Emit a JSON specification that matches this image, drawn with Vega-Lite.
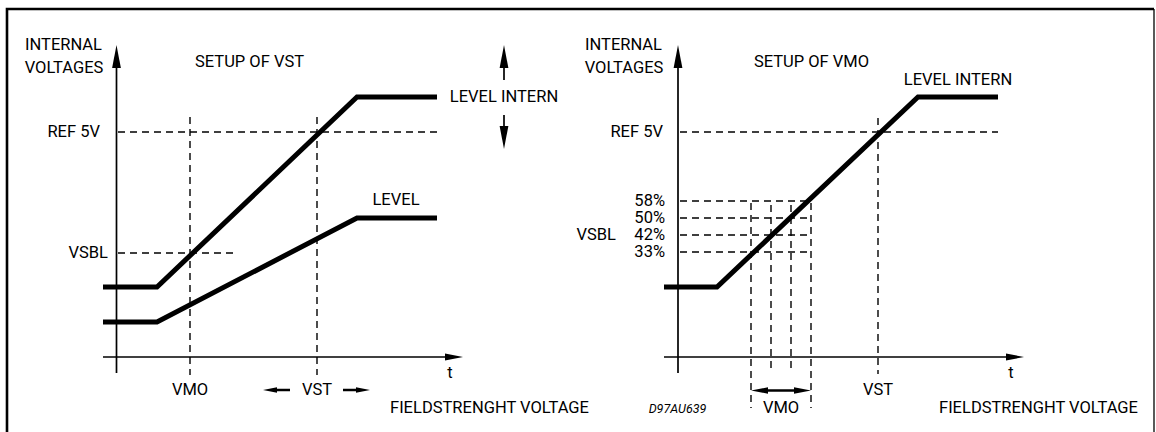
{
  "$schema": "https://vega.github.io/schema/vega-lite/v6.json",
  "width": 1156,
  "height": 432,
  "padding": 0,
  "autosize": {"type": "none"},
  "background": "white",
  "config": {"view": {"stroke": null}},
  "datasets": {
    "lines": [
      {"id": "frame", "kind": "frame", "o": 1, "x": 7, "y": 432},
      {"id": "frame", "kind": "frame", "o": 2, "x": 7, "y": 9},
      {"id": "frame", "kind": "frame", "o": 3, "x": 1154, "y": 9},
      {"id": "frameR", "kind": "framethin", "o": 1, "x": 1154, "y": 9},
      {"id": "frameR", "kind": "framethin", "o": 2, "x": 1154, "y": 432},

      {"id": "L_intern", "kind": "thick", "o": 1, "x": 103, "y": 287},
      {"id": "L_intern", "kind": "thick", "o": 2, "x": 157, "y": 287},
      {"id": "L_intern", "kind": "thick", "o": 3, "x": 357, "y": 97},
      {"id": "L_intern", "kind": "thick", "o": 4, "x": 437, "y": 97},
      {"id": "L_level", "kind": "thick", "o": 1, "x": 103, "y": 322},
      {"id": "L_level", "kind": "thick", "o": 2, "x": 157, "y": 322},
      {"id": "L_level", "kind": "thick", "o": 3, "x": 357, "y": 218},
      {"id": "L_level", "kind": "thick", "o": 4, "x": 437, "y": 218},
      {"id": "R_intern", "kind": "thick", "o": 1, "x": 664, "y": 287},
      {"id": "R_intern", "kind": "thick", "o": 2, "x": 717, "y": 287},
      {"id": "R_intern", "kind": "thick", "o": 3, "x": 918, "y": 97},
      {"id": "R_intern", "kind": "thick", "o": 4, "x": 998, "y": 97},

      {"id": "L_yaxis", "kind": "axis", "o": 1, "x": 116.5, "y": 60},
      {"id": "L_yaxis", "kind": "axis", "o": 2, "x": 116.5, "y": 373},
      {"id": "L_xaxis", "kind": "axis", "o": 1, "x": 103, "y": 357},
      {"id": "L_xaxis", "kind": "axis", "o": 2, "x": 450, "y": 357},
      {"id": "R_yaxis", "kind": "axis", "o": 1, "x": 678, "y": 60},
      {"id": "R_yaxis", "kind": "axis", "o": 2, "x": 678, "y": 373},
      {"id": "R_xaxis", "kind": "axis", "o": 1, "x": 664, "y": 357},
      {"id": "R_xaxis", "kind": "axis", "o": 2, "x": 1010, "y": 357},
      {"id": "up_shaft", "kind": "axis", "o": 1, "x": 504, "y": 66},
      {"id": "up_shaft", "kind": "axis", "o": 2, "x": 504, "y": 80},
      {"id": "down_shaft", "kind": "axis", "o": 1, "x": 504, "y": 115},
      {"id": "down_shaft", "kind": "axis", "o": 2, "x": 504, "y": 129},

      {"id": "vst_l", "kind": "shaft", "o": 1, "x": 275, "y": 390},
      {"id": "vst_l", "kind": "shaft", "o": 2, "x": 290, "y": 390},
      {"id": "vst_r", "kind": "shaft", "o": 1, "x": 343, "y": 390},
      {"id": "vst_r", "kind": "shaft", "o": 2, "x": 358, "y": 390},
      {"id": "vmo_s", "kind": "shaft", "o": 1, "x": 766, "y": 390.5},
      {"id": "vmo_s", "kind": "shaft", "o": 2, "x": 796, "y": 390.5},

      {"id": "L_ref", "kind": "dash", "o": 1, "x": 118, "y": 132},
      {"id": "L_ref", "kind": "dash", "o": 2, "x": 437, "y": 132},
      {"id": "L_vsbl", "kind": "dash", "o": 1, "x": 118, "y": 253},
      {"id": "L_vsbl", "kind": "dash", "o": 2, "x": 237, "y": 253},
      {"id": "L_vmo", "kind": "dash", "o": 1, "x": 190, "y": 117},
      {"id": "L_vmo", "kind": "dash", "o": 2, "x": 190, "y": 375},
      {"id": "L_vst", "kind": "dash", "o": 1, "x": 317, "y": 117},
      {"id": "L_vst", "kind": "dash", "o": 2, "x": 317, "y": 375},
      {"id": "R_ref", "kind": "dash", "o": 1, "x": 680, "y": 132},
      {"id": "R_ref", "kind": "dash", "o": 2, "x": 998, "y": 132},
      {"id": "R_58", "kind": "dash", "o": 1, "x": 680, "y": 201},
      {"id": "R_58", "kind": "dash", "o": 2, "x": 811, "y": 201},
      {"id": "R_50", "kind": "dash", "o": 1, "x": 680, "y": 218},
      {"id": "R_50", "kind": "dash", "o": 2, "x": 811, "y": 218},
      {"id": "R_42", "kind": "dash", "o": 1, "x": 680, "y": 235},
      {"id": "R_42", "kind": "dash", "o": 2, "x": 811, "y": 235},
      {"id": "R_33", "kind": "dash", "o": 1, "x": 680, "y": 252},
      {"id": "R_33", "kind": "dash", "o": 2, "x": 811, "y": 252},
      {"id": "R_v1", "kind": "dash", "o": 1, "x": 751, "y": 203},
      {"id": "R_v1", "kind": "dash", "o": 2, "x": 751, "y": 408},
      {"id": "R_v2", "kind": "dash", "o": 1, "x": 771, "y": 205},
      {"id": "R_v2", "kind": "dash", "o": 2, "x": 771, "y": 368},
      {"id": "R_v3", "kind": "dash", "o": 1, "x": 791, "y": 205},
      {"id": "R_v3", "kind": "dash", "o": 2, "x": 791, "y": 368},
      {"id": "R_v4", "kind": "dash", "o": 1, "x": 811, "y": 203},
      {"id": "R_v4", "kind": "dash", "o": 2, "x": 811, "y": 408},
      {"id": "R_vst", "kind": "dash", "o": 1, "x": 878, "y": 118},
      {"id": "R_vst", "kind": "dash", "o": 2, "x": 878, "y": 374}
    ],
    "heads": [
      {"head": "yaxis", "dir": "up", "x": 116.5, "y": 56.5},
      {"head": "yaxis", "dir": "up", "x": 678, "y": 56.5},
      {"head": "xaxis", "dir": "right", "x": 454, "y": 357},
      {"head": "xaxis", "dir": "right", "x": 1015, "y": 357},
      {"head": "updown", "dir": "up", "x": 504, "y": 56.5},
      {"head": "updown", "dir": "down", "x": 504, "y": 137.5},
      {"head": "vst", "dir": "left", "x": 270, "y": 390},
      {"head": "vst", "dir": "right", "x": 363, "y": 390},
      {"head": "vmo", "dir": "left", "x": 759.5, "y": 390.5},
      {"head": "vmo", "dir": "right", "x": 802.5, "y": 390.5}
    ],
    "labels": [
      {"text": "INTERNAL", "style": "center", "x": 63.5, "y": 45},
      {"text": "VOLTAGES", "style": "center", "x": 64, "y": 68},
      {"text": "SETUP OF VST", "style": "center", "x": 249.5, "y": 62},
      {"text": "LEVEL INTERN", "style": "center", "x": 504, "y": 97},
      {"text": "LEVEL", "style": "center", "x": 396, "y": 200},
      {"text": "VMO", "style": "center", "x": 190, "y": 390},
      {"text": "VST", "style": "center", "x": 317, "y": 390},
      {"text": "t", "style": "center", "x": 450, "y": 373},
      {"text": "FIELDSTRENGHT VOLTAGE", "style": "center", "x": 489.5, "y": 408},
      {"text": "INTERNAL", "style": "center", "x": 623.5, "y": 45},
      {"text": "VOLTAGES", "style": "center", "x": 624, "y": 68},
      {"text": "SETUP OF VMO", "style": "center", "x": 811.5, "y": 62},
      {"text": "LEVEL INTERN", "style": "center", "x": 958, "y": 80},
      {"text": "VMO", "style": "center", "x": 781, "y": 408},
      {"text": "VST", "style": "center", "x": 878, "y": 390},
      {"text": "t", "style": "center", "x": 1011, "y": 373},
      {"text": "FIELDSTRENGHT VOLTAGE", "style": "center", "x": 1038.5, "y": 408},
      {"text": "REF 5V", "style": "right", "x": 100, "y": 132},
      {"text": "VSBL", "style": "right", "x": 108, "y": 253},
      {"text": "REF 5V", "style": "right", "x": 663, "y": 132},
      {"text": "VSBL", "style": "right", "x": 616, "y": 235},
      {"text": "58%", "style": "right", "x": 665, "y": 201},
      {"text": "50%", "style": "right", "x": 665, "y": 218},
      {"text": "42%", "style": "right", "x": 665, "y": 235},
      {"text": "33%", "style": "right", "x": 665, "y": 252},
      {"text": "D97AU639", "style": "small", "x": 677.5, "y": 409}
    ]
  },
  "encoding": {
    "x": {"field": "x", "type": "quantitative", "axis": null, "scale": {"domain": [0, 1156], "nice": false, "zero": false}},
    "y": {"field": "y", "type": "quantitative", "axis": null, "scale": {"domain": [0, 432], "nice": false, "zero": false, "reverse": true}}
  },
  "layer": [
    {
      "data": {"name": "lines"},
      "transform": [{"filter": "datum.kind === 'frame'"}],
      "mark": {"type": "line", "color": "black", "strokeWidth": 2.6, "strokeJoin": "miter"},
      "encoding": {"detail": {"field": "id"}, "order": {"field": "o", "type": "quantitative"}}
    },
    {
      "data": {"name": "lines"},
      "transform": [{"filter": "datum.kind === 'framethin'"}],
      "mark": {"type": "line", "color": "black", "strokeWidth": 1.3},
      "encoding": {"detail": {"field": "id"}, "order": {"field": "o", "type": "quantitative"}}
    },
    {
      "data": {"name": "lines"},
      "transform": [{"filter": "datum.kind === 'dash'"}],
      "mark": {"type": "line", "color": "black", "strokeWidth": 1.4, "strokeDash": [7, 5]},
      "encoding": {"detail": {"field": "id"}, "order": {"field": "o", "type": "quantitative"}}
    },
    {
      "data": {"name": "lines"},
      "transform": [{"filter": "datum.kind === 'axis'"}],
      "mark": {"type": "line", "color": "black", "strokeWidth": 1.7},
      "encoding": {"detail": {"field": "id"}, "order": {"field": "o", "type": "quantitative"}}
    },
    {
      "data": {"name": "lines"},
      "transform": [{"filter": "datum.kind === 'shaft'"}],
      "mark": {"type": "line", "color": "black", "strokeWidth": 2.5},
      "encoding": {"detail": {"field": "id"}, "order": {"field": "o", "type": "quantitative"}}
    },
    {
      "data": {"name": "lines"},
      "transform": [{"filter": "datum.kind === 'thick'"}],
      "mark": {"type": "line", "color": "black", "strokeWidth": 5, "strokeJoin": "miter"},
      "encoding": {"detail": {"field": "id"}, "order": {"field": "o", "type": "quantitative"}}
    },
    {
      "data": {"name": "heads"},
      "transform": [{"filter": "datum.head === 'yaxis'"}],
      "mark": {"type": "point", "filled": true, "color": "black", "opacity": 1, "strokeWidth": 0, "size": 529},
      "encoding": {"shape": {"field": "dir", "type": "nominal", "legend": null, "scale": {"domain": ["up", "down", "left", "right"], "range": ["M0,-1L0.38,1L-0.38,1Z", "M0,1L0.38,-1L-0.38,-1Z", "M-1,0L1,0.38L1,-0.38Z", "M1,0L-1,0.38L-1,-0.38Z"]}}}
    },
    {
      "data": {"name": "heads"},
      "transform": [{"filter": "datum.head === 'xaxis'"}],
      "mark": {"type": "point", "filled": true, "color": "black", "opacity": 1, "strokeWidth": 0, "size": 324},
      "encoding": {"shape": {"field": "dir", "type": "nominal", "legend": null, "scale": {"domain": ["up", "down", "left", "right"], "range": ["M0,-1L0.67,1L-0.67,1Z", "M0,1L0.67,-1L-0.67,-1Z", "M-1,0L1,0.67L1,-0.67Z", "M1,0L-1,0.67L-1,-0.67Z"]}}}
    },
    {
      "data": {"name": "heads"},
      "transform": [{"filter": "datum.head === 'updown'"}],
      "mark": {"type": "point", "filled": true, "color": "black", "opacity": 1, "strokeWidth": 0, "size": 529},
      "encoding": {"shape": {"field": "dir", "type": "nominal", "legend": null, "scale": {"domain": ["up", "down", "left", "right"], "range": ["M0,-1L0.45,1L-0.45,1Z", "M0,1L0.45,-1L-0.45,-1Z", "M-1,0L1,0.45L1,-0.45Z", "M1,0L-1,0.45L-1,-0.45Z"]}}}
    },
    {
      "data": {"name": "heads"},
      "transform": [{"filter": "datum.head === 'vst'"}],
      "mark": {"type": "point", "filled": true, "color": "black", "opacity": 1, "strokeWidth": 0, "size": 196},
      "encoding": {"shape": {"field": "dir", "type": "nominal", "legend": null, "scale": {"domain": ["up", "down", "left", "right"], "range": ["M0,-1L0.68,1L-0.68,1Z", "M0,1L0.68,-1L-0.68,-1Z", "M-1,0L1,0.68L1,-0.68Z", "M1,0L-1,0.68L-1,-0.68Z"]}}}
    },
    {
      "data": {"name": "heads"},
      "transform": [{"filter": "datum.head === 'vmo'"}],
      "mark": {"type": "point", "filled": true, "color": "black", "opacity": 1, "strokeWidth": 0, "size": 289},
      "encoding": {"shape": {"field": "dir", "type": "nominal", "legend": null, "scale": {"domain": ["up", "down", "left", "right"], "range": ["M0,-1L0.82,1L-0.82,1Z", "M0,1L0.82,-1L-0.82,-1Z", "M-1,0L1,0.82L1,-0.82Z", "M1,0L-1,0.82L-1,-0.82Z"]}}}
    },
    {
      "data": {"name": "labels"},
      "transform": [{"filter": "datum.style === 'center'"}],
      "mark": {"type": "text", "align": "center", "baseline": "middle", "font": "Roboto", "fontSize": 16.5, "color": "black"},
      "encoding": {"text": {"field": "text"}}
    },
    {
      "data": {"name": "labels"},
      "transform": [{"filter": "datum.style === 'right'"}],
      "mark": {"type": "text", "align": "right", "baseline": "middle", "font": "Roboto", "fontSize": 16.5, "color": "black"},
      "encoding": {"text": {"field": "text"}}
    },
    {
      "data": {"name": "labels"},
      "transform": [{"filter": "datum.style === 'small'"}],
      "mark": {"type": "text", "align": "center", "baseline": "middle", "font": "Roboto", "fontSize": 12.5, "fontStyle": "italic", "color": "black"},
      "encoding": {"text": {"field": "text"}}
    }
  ]
}
